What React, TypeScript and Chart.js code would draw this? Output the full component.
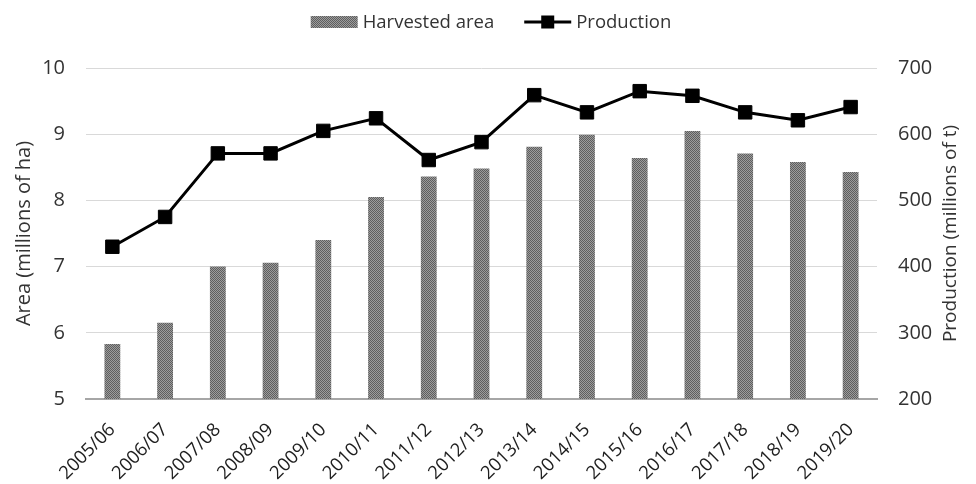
import React, { useEffect, useRef } from "react";
import { Chart, registerables } from "chart.js";

Chart.register(...registerables);

// Crop seasons on the x axis
const seasons = [
  "2005/06", "2006/07", "2007/08", "2008/09", "2009/10",
  "2010/11", "2011/12", "2012/13", "2013/14", "2014/15",
  "2015/16", "2016/17", "2017/18", "2018/19", "2019/20",
];

// Harvested area, millions of ha (left axis)
const harvestedArea = [5.83, 6.15, 7.0, 7.06, 7.4, 8.05, 8.36, 8.48, 8.81, 8.99, 8.64, 9.05, 8.71, 8.58, 8.43];

// Production, millions of t (right axis)
const production = [430, 475, 571, 571, 605, 624, 561, 588, 659, 633, 665, 658, 633, 621, 641];

const areaAxis = { min: 5, max: 10, step: 1, title: "Area (millions of ha)" };
const productionAxis = { min: 200, max: 700, step: 100, title: "Production (millions of t)" };

const legendLabels = ["Harvested area", "Production"];

const FONT = "'Open Sans', 'Noto Sans', sans-serif";
const TEXT = "#333333";

function makeHatch(): CanvasPattern | string {
  const c = document.createElement("canvas");
  c.width = 2;
  c.height = 2;
  const g = c.getContext("2d");
  if (!g) return "#808080";
  g.fillStyle = "#9c9c9c";
  g.fillRect(0, 0, 2, 2);
  g.fillStyle = "#5e5e5e";
  g.fillRect(0, 0, 1, 1);
  g.fillRect(1, 1, 1, 1);
  const p = g.createPattern(c, "repeat");
  return p || "#808080";
}

export default function App() {
  const ref = useRef<HTMLCanvasElement | null>(null);

  useEffect(() => {
    const canvas = ref.current;
    if (!canvas) return;
    const hatch = makeHatch();

    // Legend across the top and the right-hand axis title (reads bottom to top)
    const extras = {
      id: "extras",
      afterDraw(chart: any) {
        const ctx = chart.ctx as CanvasRenderingContext2D;
        const area = chart.chartArea;
        ctx.save();

        // legend
        ctx.font = `18.5px ${FONT}`;
        ctx.textBaseline = "middle";
        ctx.textAlign = "left";
        const w1 = ctx.measureText(legendLabels[0]).width;
        const w2 = ctx.measureText(legendLabels[1]).width;
        const sw = 47, gapText = 5, gapItems = 30;
        const total = sw + gapText + w1 + gapItems + sw + gapText + w2;
        let x = 491 - total / 2;
        const cy = 22;
        ctx.fillStyle = hatch as any;
        ctx.fillRect(x, cy - 6, sw, 12);
        x += sw + gapText;
        ctx.fillStyle = TEXT;
        ctx.fillText(legendLabels[0], x, cy + 1);
        x += w1 + gapItems;
        ctx.strokeStyle = "#000";
        ctx.lineWidth = 3;
        ctx.beginPath();
        ctx.moveTo(x, cy);
        ctx.lineTo(x + sw, cy);
        ctx.stroke();
        ctx.fillStyle = "#000";
        ctx.fillRect(x + sw / 2 - 6.5, cy - 6.5, 13, 13);
        x += sw + gapText;
        ctx.fillStyle = TEXT;
        ctx.fillText(legendLabels[1], x, cy + 1);

        // right axis title
        ctx.font = `19px ${FONT}`;
        ctx.textAlign = "center";
        ctx.textBaseline = "middle";
        ctx.translate(951, (area.top + area.bottom) / 2);
        ctx.rotate(-Math.PI / 2);
        ctx.fillText(productionAxis.title, 0, 0);
        ctx.restore();
      },
    };

    const chart = new Chart(canvas, {
      type: "bar",
      data: {
        labels: seasons,
        datasets: [
          {
            type: "line",
            label: legendLabels[1],
            data: production,
            yAxisID: "y1",
            borderColor: "#000",
            backgroundColor: "#000",
            borderWidth: 3,
            pointStyle: "rect",
            pointRadius: 9.5,
            pointBorderWidth: 1,
            pointBackgroundColor: "#000",
            pointBorderColor: "#000",
            tension: 0,
            order: 0,
          } as any,
          {
            type: "bar",
            label: legendLabels[0],
            data: harvestedArea,
            yAxisID: "y",
            backgroundColor: hatch as any,
            borderWidth: 0,
            categoryPercentage: 1,
            barPercentage: 0.3,
            order: 1,
          },
        ],
      },
      options: {
        responsive: false,
        animation: false,
        devicePixelRatio: 1,
        layout: { padding: { top: 68, left: 0, right: 0, bottom: 0 } },
        plugins: {
          legend: { display: false },
          tooltip: { enabled: false },
        },
        scales: {
          x: {
            grid: { display: false, drawTicks: false },
            border: { display: true, color: "#a6a6a6", width: 2 },
            ticks: {
              color: "#1e1e1e",
              font: { family: FONT, size: 18.5 },
              minRotation: 45,
              maxRotation: 45,
              autoSkip: false,
              padding: 20,
            },
            afterFit(scale: any) {
              scale.height = 85;
            },
          },
          y: {
            position: "left",
            min: areaAxis.min,
            max: areaAxis.max,
            grid: { color: "#d9d9d9", lineWidth: 1, drawTicks: false },
            border: { display: false },
            ticks: {
              stepSize: areaAxis.step,
              color: TEXT,
              font: { family: FONT, size: 20 },
              padding: 21,
            },
            title: {
              display: true,
              text: areaAxis.title,
              color: TEXT,
              font: { family: FONT, size: 20 },
              padding: { top: 12, bottom: 0 },
            },
            afterFit(scale: any) {
              scale.width = 86;
            },
          },
          y1: {
            position: "right",
            min: productionAxis.min,
            max: productionAxis.max,
            grid: { drawOnChartArea: false, drawTicks: false },
            border: { display: false },
            ticks: {
              stepSize: productionAxis.step,
              color: TEXT,
              font: { family: FONT, size: 20 },
              padding: 21,
            },
            afterFit(scale: any) {
              scale.width = 99;
            },
          },
        },
      },
      plugins: [extras],
    });

    return () => chart.destroy();
  }, []);

  return (
    <div style={{ position: "fixed", left: 0, top: 0, width: 976, height: 484, background: "#fff" }}>
      <canvas ref={ref} width={976} height={484} />
    </div>
  );
}
